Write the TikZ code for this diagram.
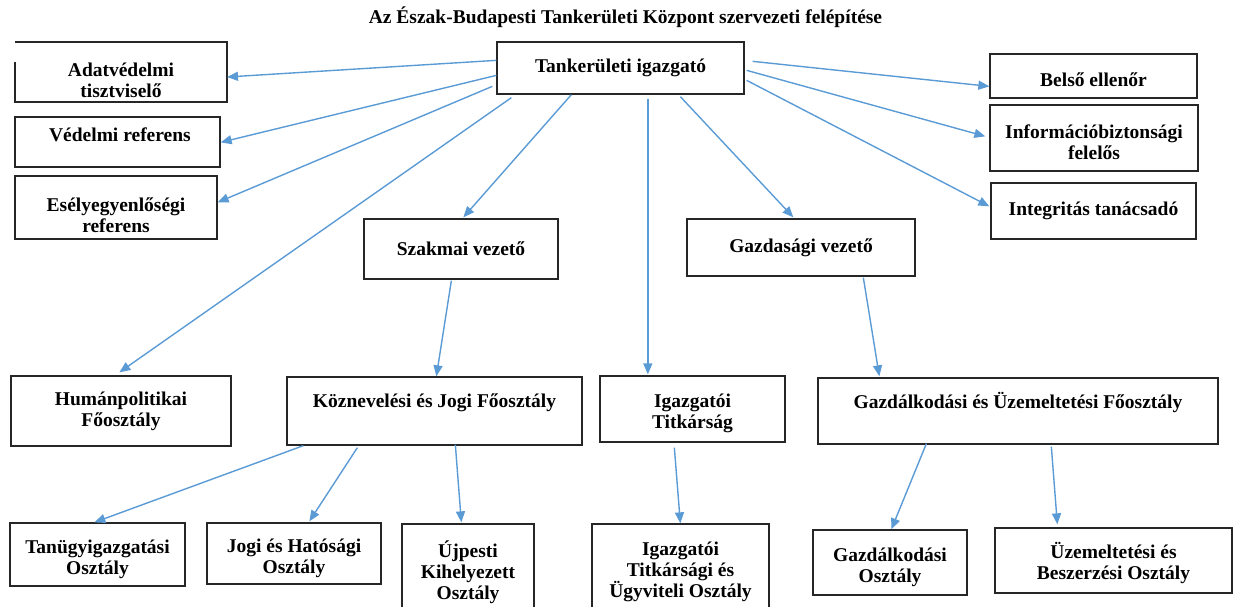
\documentclass[tikz,border=0pt]{standalone}
\usepackage{fontspec}
\setmainfont{Liberation Serif}
\usetikzlibrary{arrows.meta}

\definecolor{nyilkek}{HTML}{5B9BD5}
% Szoveg lejjebb / feljebb tolasa a dobozban
\newcommand{\lejjebb}[1]{\rule{0pt}{#1}}
\newcommand{\feljebb}[1]{\rule[-#1]{0pt}{0pt}}

\tikzset{
	keret/.style={draw=black!85, line width=1.3pt},
	doboz/.style={keret, align=center, inner sep=2pt,
		font=\bfseries\fontsize{19.5}{21}\selectfont},
	nyil/.style={draw=nyilkek, line width=1.4pt, -{Triangle[length=11pt,width=9pt]}}
}

\begin{document}
\begin{tikzpicture}[x=1pt,y=-1pt]
	\useasboundingbox (0,0) rectangle (1240,606);
	
	% Cim
	\node[font=\bfseries\fontsize{19.5}{21}\selectfont] (cim) at (625.5,17) {Az Észak-Budapesti Tankerületi Központ szervezeti felépítése};
	
	% Vezetes
	\node[doboz, minimum width=247, minimum height=52] (igazgato) at (620.5,68) {Tankerületi igazgató};
	\node[doboz, minimum width=194, minimum height=60] (szakmai) at (461,249) {Szakmai vezető};
	\node[doboz, minimum width=228, minimum height=57] (gazdvez) at (801,247.5) {Gazdasági vezető};
	
	% Bal oldali dobozok (az elsonek a bal szele hianyos)
	\node[doboz, draw=none, outer sep=0pt, minimum width=212, minimum height=60] (adat) at (121,72) {\lejjebb{30pt}Adatvédelmi\\tisztviselő};
	\draw[keret] ([shift={(0,20)}]adat.north west) -- (adat.south west) -- (adat.south east) -- (adat.north east) -- (adat.north west);
	\node[doboz, minimum width=205, minimum height=50] (vedelmi) at (117.5,142) {\ Védelmi referens\feljebb{14pt}};
	\node[doboz, minimum width=202, minimum height=63] (esely) at (116,207.5) {\lejjebb{30pt}Esélyegyenlőségi\\referens};
	
	% Jobb oldali dobozok
	\node[doboz, minimum width=207, minimum height=44] (belso) at (1093.5,76) {\lejjebb{22pt}Belső ellenőr};
	\node[doboz, minimum width=208, minimum height=66] (info) at (1094,138) {\lejjebb{22pt}Információbiztonsági\\felelős};
	\node[doboz, minimum width=205, minimum height=56] (integr) at (1093.5,211) {Integritás tanácsadó};
	
	% Foosztalyok
	\node[doboz, minimum width=220, minimum height=70] (human) at (121,411) {Humánpolitikai\\Főosztály};
	\node[doboz, minimum width=295, minimum height=68] (kozn) at (434.5,411) {Köznevelési és Jogi Főosztály\\~};
	\node[doboz, minimum width=185, minimum height=66] (titk) at (692.5,409) {\lejjebb{22pt}Igazgatói\\Titkárság};
	\node[doboz, minimum width=400, minimum height=66] (gazdfo) at (1018,411) {Gazdálkodási és Üzemeltetési Főosztály\\~};
	
	% Osztalyok
	\node[doboz, minimum width=175, minimum height=63] (tanugy) at (97.5,554.5) {\lejjebb{24pt}Tanügyigazgatási\\Osztály};
	\node[doboz, minimum width=174, minimum height=61] (jogi) at (294,553.5) {\lejjebb{24pt}Jogi és Hatósági\\Osztály};
	\node[doboz, minimum width=132, minimum height=96] (ujpest) at (468,572) {Újpesti\\Kihelyezett\\Osztály};
	\node[doboz, minimum width=177, minimum height=96] (ugyvit) at (680.5,572) {Igazgatói\\Titkársági és\\Ügyviteli Osztály};
	\node[doboz, minimum width=154, minimum height=65] (gazdo) at (890,562.5) {\lejjebb{24pt}Gazdálkodási\\Osztály};
	\node[doboz, minimum width=237, minimum height=65] (uzem) at (1113.5,560.5) {\lejjebb{22pt}Üzemeltetési és\\Beszerzési Osztály};
	
	% Nyilak az igazgatotol
	\draw[nyil] ([shift={(0,19)}]igazgato.north west) -- ([shift={(0,35)}]adat.north east);
	\draw[nyil] ([shift={(0,34)}]igazgato.north west) -- ([shift={(0,26)}]vedelmi.north east);
	\draw[nyil] ([shift={(-4,45)}]igazgato.north west) -- ([shift={(0,27)}]esely.north east);
	\draw[nyil] ([shift={(15,3)}]igazgato.south west) -- ([shift={(109,-3)}]human.north west);
	\draw[nyil] ([shift={(75,0)}]igazgato.south west) -- ([shift={(100,-1)}]szakmai.north west);
	\draw[nyil] ([shift={(151.5,4)}]igazgato.south west) -- ([shift={(48.5,-1)}]titk.north west);
	\draw[nyil] ([shift={(184,2)}]igazgato.south west) -- ([shift={(107,-1)}]gazdvez.north west);
	\draw[nyil] ([shift={(8,20)}]igazgato.north east) -- ([shift={(0,33)}]belso.north west);
	\draw[nyil] ([shift={(2,29)}]igazgato.north east) -- ([shift={(-4,32)}]info.north west);
	\draw[nyil] ([shift={(2,39)}]igazgato.north east) -- ([shift={(-1,24)}]integr.north west);
	
	% Vezetoktol a foosztalyokig
	\draw[nyil] ([shift={(88,1)}]szakmai.south west) -- ([shift={(150,0)}]kozn.north west);
	\draw[nyil] ([shift={(177,1)}]gazdvez.south west) -- ([shift={(62,-1)}]gazdfo.north west);
	
	% Foosztalyoktol az osztalyokig
	\draw[nyil] ([shift={(17,0)}]kozn.south west) -- ([shift={(85,0)}]tanugy.north west);
	\draw[nyil] ([shift={(71,2)}]kozn.south west) -- ([shift={(103,-1)}]jogi.north west);
	\draw[nyil] ([shift={(169,-1)}]kozn.south west) -- ([shift={(60,-1)}]ujpest.north west);
	\draw[nyil] ([shift={(75,5)}]titk.south west) -- ([shift={(89,0)}]ugyvit.north west);
	\draw[nyil] ([shift={(109,-1)}]gazdfo.south west) -- ([shift={(79,0)}]gazdo.north west);
	\draw[nyil] ([shift={(234,2)}]gazdfo.south west) -- ([shift={(63,-3)}]uzem.north west);
\end{tikzpicture}
\end{document}
